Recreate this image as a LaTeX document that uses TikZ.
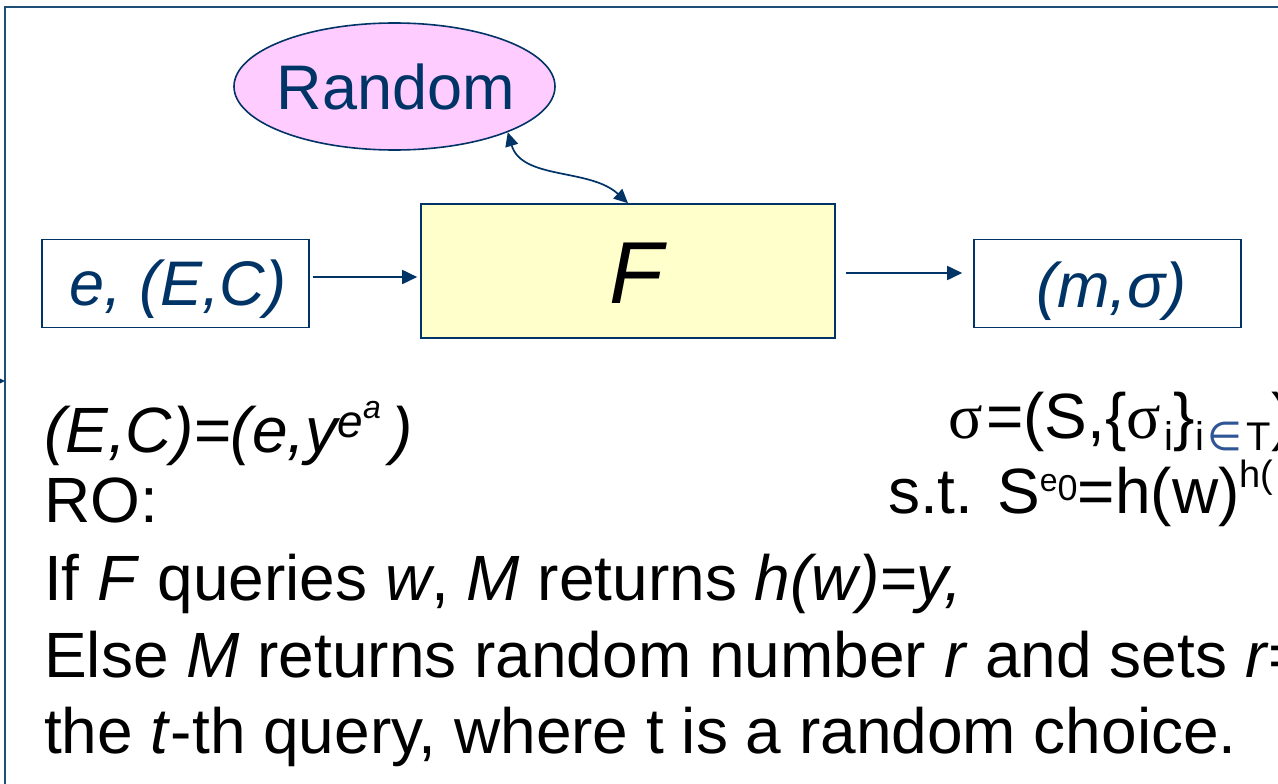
\documentclass[tikz,border=0pt]{standalone}
\usepackage{fontspec}
\setmainfont{Liberation Sans}
\newfontfamily\greekserif{Liberation Serif}
\newfontfamily\mathsym{DejaVu Sans}
\usetikzlibrary{arrows.meta,shapes.geometric}

\definecolor{navy}{HTML}{003366}
\definecolor{framecol}{HTML}{1F4E79}
\definecolor{boxyellow}{HTML}{FFFFCC}
\definecolor{boxpink}{HTML}{FFCCFF}
\definecolor{elemblue}{HTML}{2F5597}

% font size in points, with a matching baseline skip
\newcommand\fsz[1]{\fontsize{#1}{#1}\selectfont}
% raised / lowered small text
\newcommand\up[3]{\raisebox{#1}{\fsz{#2}#3}}
% upright serif sigma on a fixed advance
\newcommand\sig{\makebox[38pt][l]{\greekserif σ}}

\begin{document}
\begin{tikzpicture}[x=1pt,y=-1pt,
  shapebox/.style={draw=navy, line width=1.6pt, inner sep=0pt},
  lbl/.style={inner sep=0pt, text=navy, font=\fsz{63}},
  body/.style={inner sep=0pt, anchor=base west, text=black, font=\fsz{64}},
  arr/.style={draw=navy, line width=1.8pt, -{Triangle[length=15pt,width=14pt]}},
  dblarr/.style={draw=navy, line width=1.7pt,
    {Triangle[length=14pt,width=13pt]}-{Triangle[length=14pt,width=13pt]}},
]
\useasboundingbox (0,0) rectangle (1278,784);
\clip (0,0) rectangle (1278,784);
\fill[white] (0,0) rectangle (1278,784);

% outer frame
\draw[framecol, line width=2pt] (1300,7) -- (5,7) -- (5,800);
\coordinate (outside) at (-20,381);
\coordinate (frameleft) at (5,381);
\draw[arr] (outside) -- (frameleft);

% blocks
\node[shapebox, ellipse, fill=boxpink, minimum width=321pt, minimum height=127pt] (rnd) at (394.5,86.5) {};
\node[shapebox, fill=boxyellow, minimum width=414pt, minimum height=134pt] (F) at (628,271) {};
\node[shapebox, fill=white, minimum width=267pt, minimum height=88pt] (in) at (175.5,283.5) {};
\node[shapebox, fill=white, minimum width=267pt, minimum height=88pt] (out) at (1107.5,283.5) {};

% block texts
\node[lbl, anchor=base] (rndtxt) at (396,110) {Random};
\node[lbl, anchor=base] (intxt) at (178,305) {\itshape e, (E,C)};
\node[lbl, anchor=base] (outtxt) at (1111,307) {\itshape (m,σ)};
\node[inner sep=0pt, anchor=base, font=\fsz{88}\itshape] (Ftxt) at (636,303) {F};

% connectors
\draw[dblarr] (rnd.-22.5) .. controls (522,180) and (590,168) .. (F.north);
\draw[arr] ([xshift=3pt,yshift=6.5pt]in.east) -- ([xshift=-3pt,yshift=-6pt]F.west);
\draw[arr] ([xshift=10pt,yshift=-2pt]F.east) -- ([xshift=-11pt,yshift=10.5pt]out.west);

% notes below the diagram
\node[body] (l1) at (44,452) {\itshape (E,C)=(e,y\up{15pt}{46}{e\up{19pt}{32}{a}}\hspace{11pt})};
\node[body] (l2) at (44,522) {RO:};
\node[body] (l3) at (44,600) {If \textit{F} queries \textit{w}, \textit{M} returns \textit{h(w)=y,}};
\node[body] (l4) at (44,677) {Else \textit{M} returns random number \textit{r} and sets \textit{r}=};
\node[body] (l5) at (44,753) {the \textit{t}-th query, where t is a random choice.};

\node[body] (r1) at (948,438) {\sig=(S,\{\sig\up{-12pt}{40}{i}\}\up{-12pt}{40}{i\hspace{4pt}{\mathsym\color{elemblue}∈}\hspace{4pt}T})};
\node[body] (r2) at (888,513) {s.t. S\up{22pt}{32}{e}\up{13pt}{36}{0}=h(w)\up{26pt}{38}{h(}};
\end{tikzpicture}
\end{document}
